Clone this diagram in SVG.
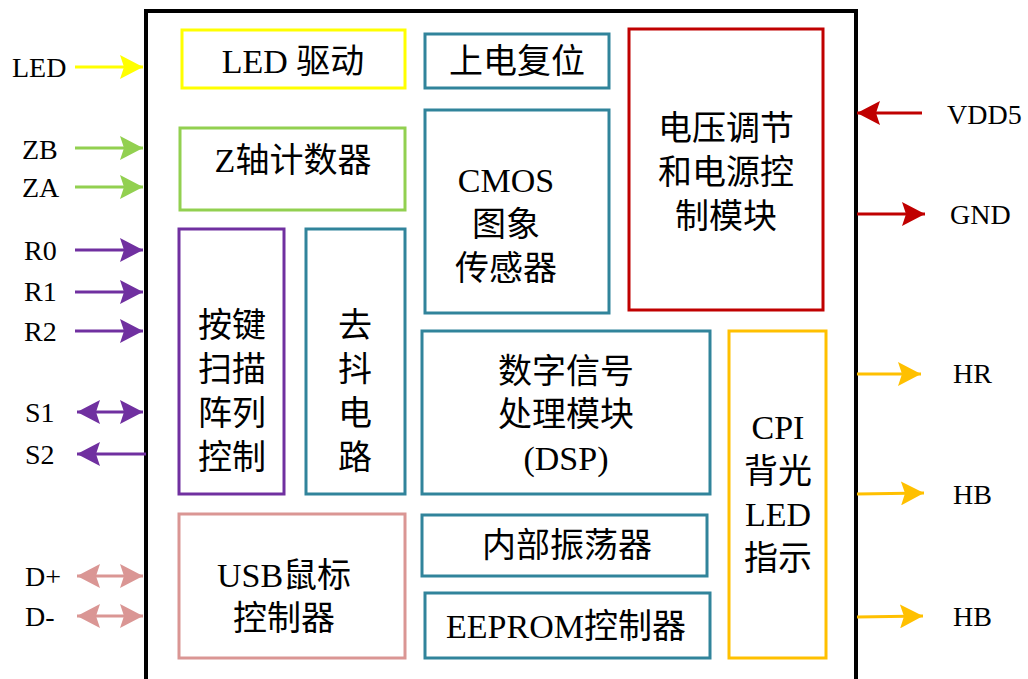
<svg xmlns="http://www.w3.org/2000/svg" width="1028" height="679" viewBox="0 0 1028 679">
<style>
.t{font-family:"Liberation Serif","Noto Sans CJK SC",serif;font-size:34px;fill:#000;text-anchor:middle;dominant-baseline:central}
.l{font-family:"Liberation Serif","Noto Sans CJK SC",serif;font-size:28px;fill:#000;dominant-baseline:central}
.b{fill:#fff;stroke-width:3}
.c{fill:none;stroke-width:3}
</style>
<defs>
<marker id="mY" markerUnits="userSpaceOnUse" markerWidth="24" markerHeight="24" refX="23" refY="12" orient="auto-start-reverse"><path d="M0,0 L23,12 L0,24 L4,12 z" fill="#FFFF00"/></marker>
<marker id="mG" markerUnits="userSpaceOnUse" markerWidth="24" markerHeight="24" refX="23" refY="12" orient="auto-start-reverse"><path d="M0,0 L23,12 L0,24 L4,12 z" fill="#92D050"/></marker>
<marker id="mP" markerUnits="userSpaceOnUse" markerWidth="24" markerHeight="24" refX="23" refY="12" orient="auto-start-reverse"><path d="M0,0 L23,12 L0,24 L4,12 z" fill="#7030A0"/></marker>
<marker id="mK" markerUnits="userSpaceOnUse" markerWidth="24" markerHeight="24" refX="23" refY="12" orient="auto-start-reverse"><path d="M0,0 L23,12 L0,24 L4,12 z" fill="#DA9694"/></marker>
<marker id="mR" markerUnits="userSpaceOnUse" markerWidth="24" markerHeight="24" refX="23" refY="12" orient="auto-start-reverse"><path d="M0,0 L23,12 L0,24 L4,12 z" fill="#C00000"/></marker>
<marker id="mO" markerUnits="userSpaceOnUse" markerWidth="24" markerHeight="24" refX="23" refY="12" orient="auto-start-reverse"><path d="M0,0 L23,12 L0,24 L4,12 z" fill="#FFC000"/></marker>
</defs>
<rect width="1028" height="679" fill="#fff"/>
<g id="chip"><path d="M146,682 V11 H856 V682" fill="none" stroke="#000" stroke-width="4"/></g>

<g id="led-drv"><rect class="b" x="182" y="30" width="223" height="58" stroke="#FFFF00"/><text class="t" x="293" y="61">LED 驱动</text></g>
<g id="z-counter"><rect class="b" x="180" y="128" width="225" height="82" stroke="#92D050"/><text class="t" x="293" y="160">Z轴计数器</text></g>
<g id="key-scan"><rect class="b" x="179" y="229" width="105" height="265" stroke="#7030A0"/>
<text class="t" x="232" y="325">按键</text><text class="t" x="232" y="369">扫描</text><text class="t" x="232" y="413">阵列</text><text class="t" x="232" y="457">控制</text></g>
<g id="debounce"><rect class="b" x="306" y="229" width="99" height="265" stroke="#31849B"/>
<text class="t" x="355" y="325">去</text><text class="t" x="355" y="369">抖</text><text class="t" x="355" y="413">电</text><text class="t" x="355" y="457">路</text></g>
<g id="usb"><rect class="b" x="179" y="514" width="226" height="144" stroke="#DA9694"/>
<text class="t" x="284" y="575">USB鼠标</text><text class="t" x="284" y="618">控制器</text></g>
<g id="por"><rect class="b" x="425" y="34" width="184" height="54" stroke="#31849B"/><text class="t" x="517" y="61">上电复位</text></g>
<g id="cmos"><rect class="b" x="425" y="110" width="184" height="203" stroke="#31849B"/>
<text class="t" x="506" y="180">CMOS</text><text class="t" x="506" y="224">图象</text><text class="t" x="506" y="268">传感器</text></g>
<g id="power"><rect class="b" x="629" y="29" width="194" height="281" stroke="#C00000"/>
<text class="t" x="726" y="128">电压调节</text><text class="t" x="726" y="172">和电源控</text><text class="t" x="726" y="216">制模块</text></g>
<g id="dsp"><rect class="b" x="422" y="331" width="288" height="163" stroke="#31849B"/>
<text class="t" x="566" y="371">数字信号</text><text class="t" x="566" y="414">处理模块</text><text class="t" x="566" y="458">(DSP)</text></g>
<g id="osc"><rect class="b" x="422" y="515" width="285" height="61" stroke="#31849B"/><text class="t" x="567" y="545">内部振荡器</text></g>
<g id="eeprom"><rect class="b" x="425" y="593" width="285" height="65" stroke="#31849B"/><text class="t" x="566" y="626">EEPROM控制器</text></g>
<g id="cpi"><rect class="b" x="729" y="331" width="97" height="327" stroke="#FFC000"/>
<text class="t" x="778" y="427">CPI</text><text class="t" x="778" y="471">背光</text><text class="t" x="778" y="514">LED</text><text class="t" x="778" y="558">指示</text></g>

<g id="connectors">
<line class="c" x1="75" y1="67" x2="143" y2="67" stroke="#FFFF00" marker-end="url(#mY)"/>
<line class="c" x1="75" y1="148" x2="143" y2="148" stroke="#92D050" marker-end="url(#mG)"/>
<line class="c" x1="75" y1="187" x2="143" y2="187" stroke="#92D050" marker-end="url(#mG)"/>
<line class="c" x1="75" y1="250" x2="143" y2="250" stroke="#7030A0" marker-end="url(#mP)"/>
<line class="c" x1="75" y1="292" x2="143" y2="292" stroke="#7030A0" marker-end="url(#mP)"/>
<line class="c" x1="75" y1="331" x2="143" y2="331" stroke="#7030A0" marker-end="url(#mP)"/>
<line class="c" x1="77" y1="412" x2="143" y2="412" stroke="#7030A0" marker-start="url(#mP)" marker-end="url(#mP)"/>
<line class="c" x1="146" y1="454" x2="77" y2="454" stroke="#7030A0" marker-end="url(#mP)"/>
<line class="c" x1="77" y1="576" x2="143" y2="576" stroke="#DA9694" marker-start="url(#mK)" marker-end="url(#mK)"/>
<line class="c" x1="77" y1="616" x2="143" y2="616" stroke="#DA9694" marker-start="url(#mK)" marker-end="url(#mK)"/>
<line class="c" x1="922" y1="113" x2="857" y2="113" stroke="#C00000" marker-end="url(#mR)"/>
<line class="c" x1="857" y1="214" x2="925" y2="214" stroke="#C00000" marker-end="url(#mR)"/>
<line class="c" x1="857" y1="374" x2="921" y2="374" stroke="#FFC000" marker-end="url(#mO)"/>
<line class="c" x1="857" y1="494" x2="924" y2="493" stroke="#FFC000" marker-end="url(#mO)"/>
<line class="c" x1="857" y1="617" x2="923" y2="616" stroke="#FFC000" marker-end="url(#mO)"/>
</g>

<g id="labels">
<text class="l" x="12" y="67">LED</text>
<text class="l" x="22" y="149">ZB</text>
<text class="l" x="22" y="187">ZA</text>
<text class="l" x="24" y="250">R0</text>
<text class="l" x="24" y="291">R1</text>
<text class="l" x="24" y="331">R2</text>
<text class="l" x="25" y="412">S1</text>
<text class="l" x="25" y="454">S2</text>
<text class="l" x="25" y="576">D+</text>
<text class="l" x="25" y="616">D-</text>
<text class="l" x="947" y="114">VDD5</text>
<text class="l" x="950" y="214">GND</text>
<text class="l" x="953" y="373">HR</text>
<text class="l" x="953" y="494">HB</text>
<text class="l" x="953" y="616">HB</text>
</g>
</svg>
